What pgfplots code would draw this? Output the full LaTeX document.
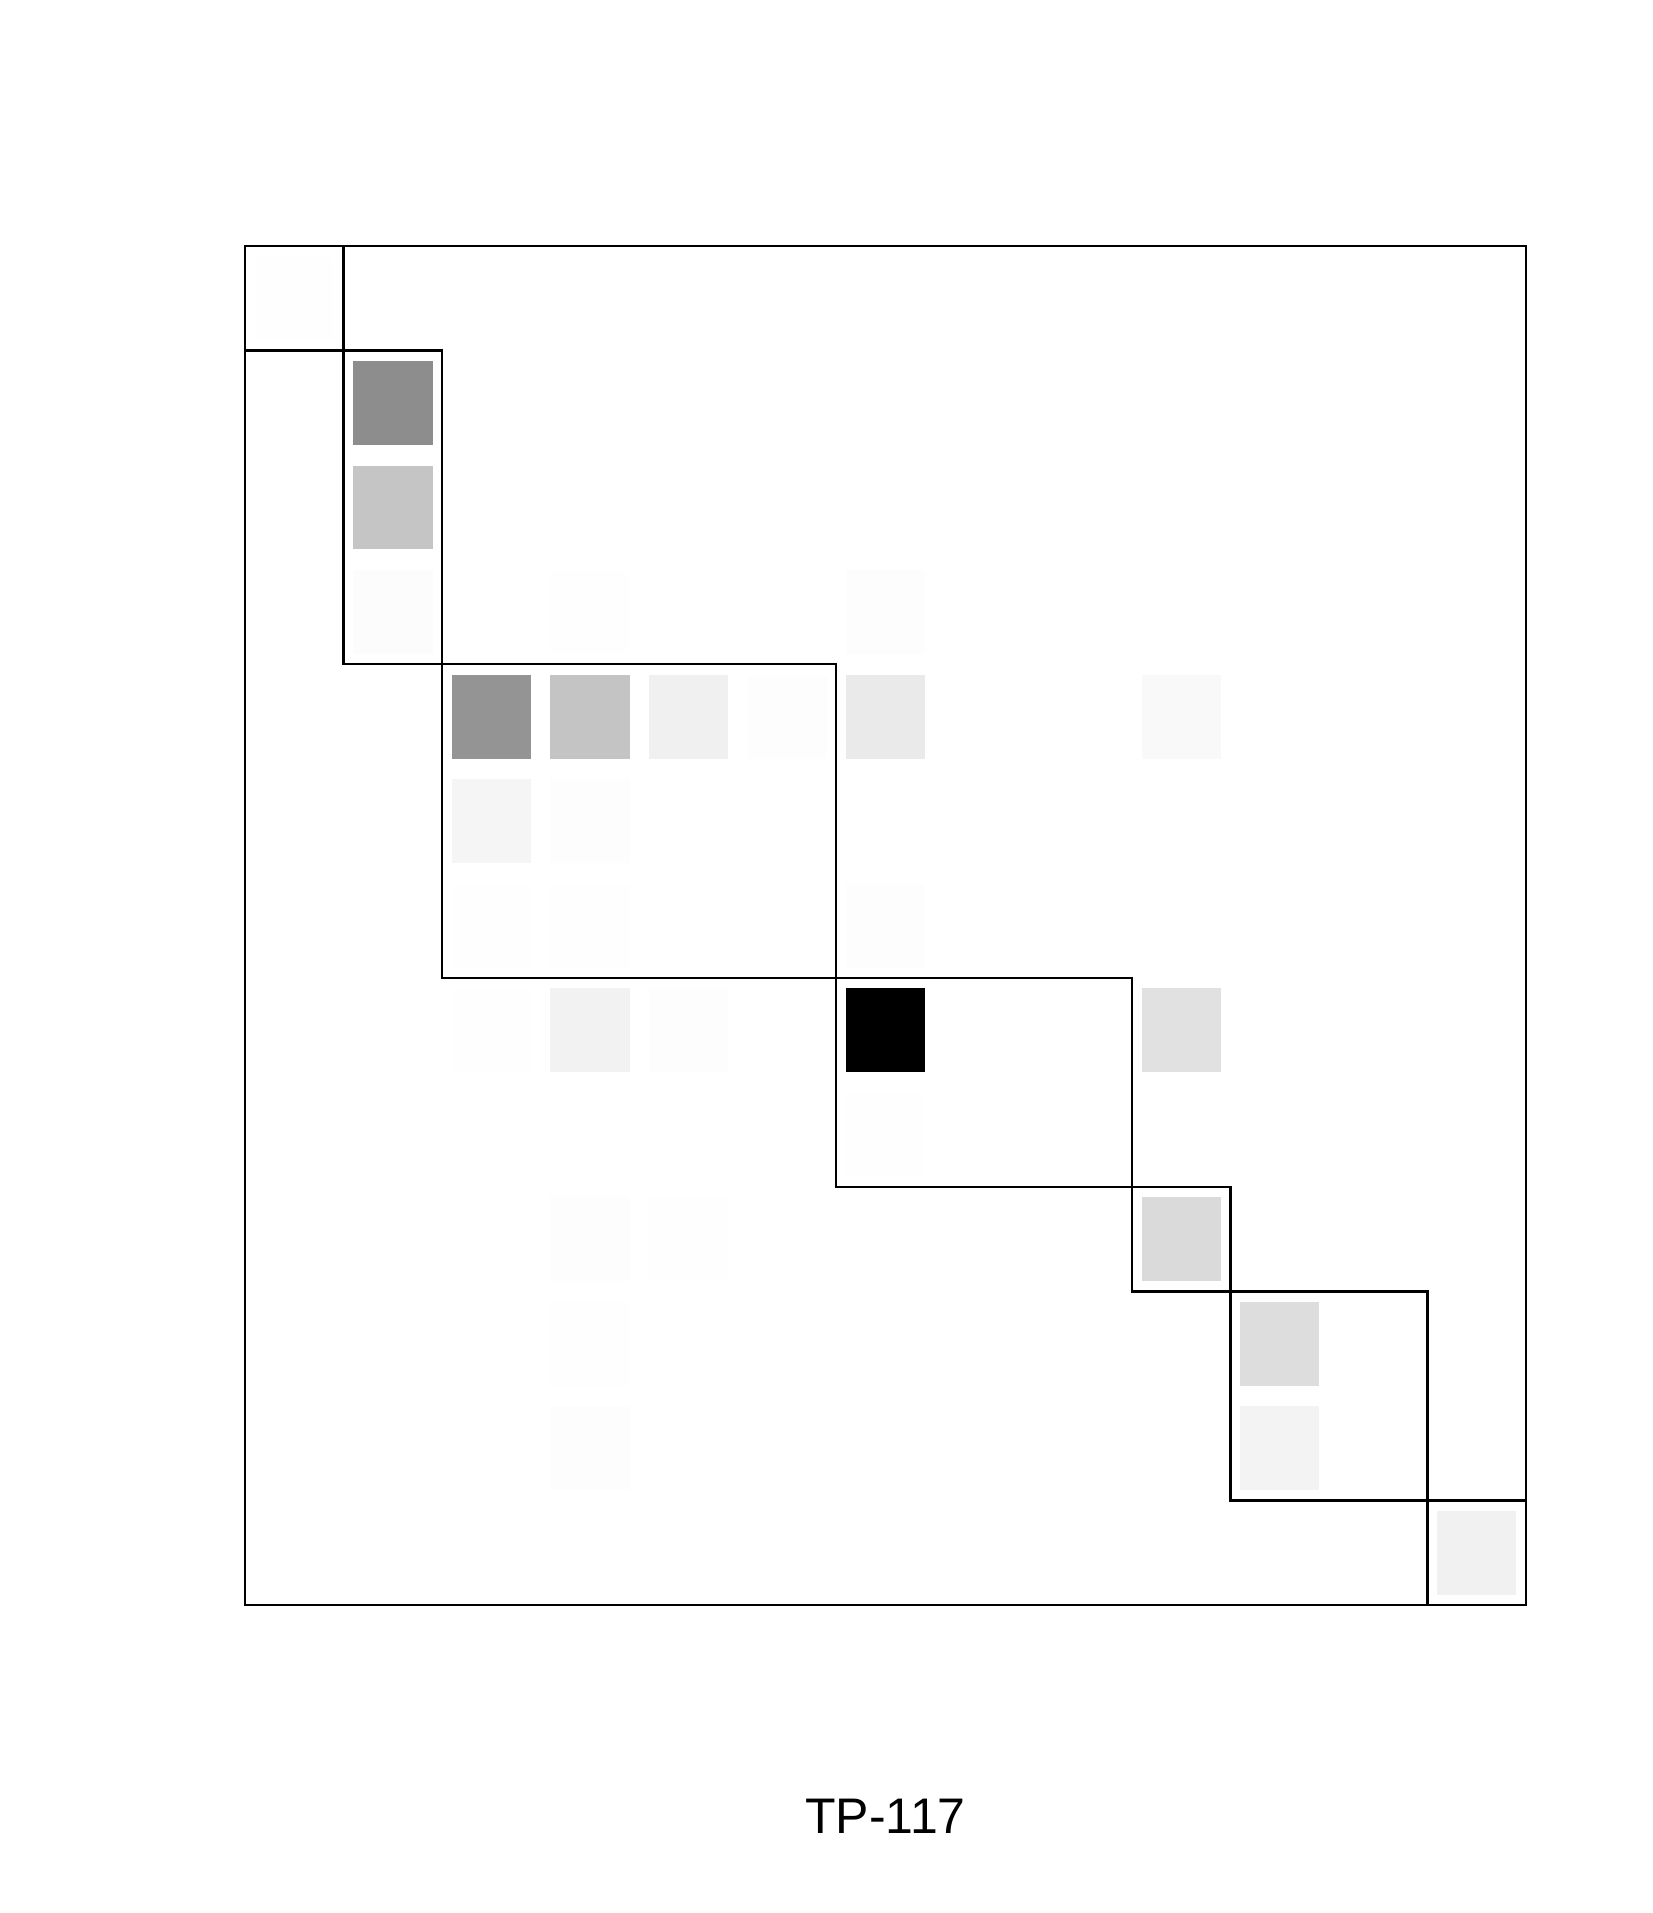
\documentclass[border=0pt]{standalone}
\usepackage{pgfplots}
\pgfplotsset{compat=1.18}
\usepackage{pgfplotstable}
\usepackage{fontspec}
\setmainfont{Liberation Sans}
\pgfplotstableread{
col row g
0.5 0.5 0.988
6.5 0.5 0.992
9.5 0.5 0.992
1.5 1.5 0.549
1.5 2.5 0.769
1.5 3.5 0.980
3.5 3.5 0.990
6.5 3.5 0.984
2.5 4.5 0.576
3.5 4.5 0.765
4.5 4.5 0.933
5.5 4.5 0.984
6.5 4.5 0.910
7.5 4.5 0.992
9.5 4.5 0.969
2.5 5.5 0.953
3.5 5.5 0.984
2.5 6.5 0.988
3.5 6.5 0.988
6.5 6.5 0.984
2.5 7.5 0.988
3.5 7.5 0.941
4.5 7.5 0.984
6.5 7.5 0.000
7.5 7.5 0.992
9.5 7.5 0.875
6.5 8.5 0.988
8.5 8.5 0.992
3.5 9.5 0.984
4.5 9.5 0.988
9.5 9.5 0.847
3.5 10.5 0.988
10.5 10.5 0.859
11.5 10.5 0.992
3.5 11.5 0.984
10.5 11.5 0.945
12.5 12.5 0.937
}\cells
\begin{document}
\begin{tikzpicture}
\path[use as bounding box] (0,0) rectangle (495.9pt,573.9pt);
\begin{axis}[
  at={(73.5pt,92.4pt)}, anchor=south west,
  scale only axis, width=384.3pt, height=407.7pt,
  xmin=0, xmax=13, ymin=0, ymax=13, y dir=reverse,
  enlargelimits=false, clip=false,
  xtick=\empty, ytick=\empty,
  axis line style={line width=0.7pt},
  colormap={gr}{gray(0cm)=(0); gray(1cm)=(1)},
  point meta min=0, point meta max=1,
  xlabel={\fontsize{15pt}{18pt}\selectfont TP-117},
  xlabel style={at={(axis description cs:0.5,0)}, anchor=base, yshift=-68.4pt, inner sep=0pt},
]
\addplot[scatter, only marks, mark=square*, mark size=11.72pt,
  mark options={yscale=1.0606, line width=0.2pt},
  scatter src=explicit,
  scatter/use mapped color={draw=mapped color, fill=mapped color}]
  table[x=col, y=row, meta=g] {\cells};
\addplot[black, line width=0.7pt, mark=none] coordinates {(0,0) (1,0) (1,1) (0,1) (0,0)};
\addplot[black, line width=0.7pt, mark=none] coordinates {(1,1) (2,1) (2,4) (1,4) (1,1)};
\addplot[black, line width=0.7pt, mark=none] coordinates {(2,4) (6,4) (6,7) (2,7) (2,4)};
\addplot[black, line width=0.7pt, mark=none] coordinates {(6,7) (9,7) (9,9) (6,9) (6,7)};
\addplot[black, line width=0.7pt, mark=none] coordinates {(9,9) (10,9) (10,10) (9,10) (9,9)};
\addplot[black, line width=0.7pt, mark=none] coordinates {(10,10) (12,10) (12,12) (10,12) (10,10)};
\addplot[black, line width=0.7pt, mark=none] coordinates {(12,12) (13,12) (13,13) (12,13) (12,12)};
\end{axis}
\end{tikzpicture}
\end{document}
